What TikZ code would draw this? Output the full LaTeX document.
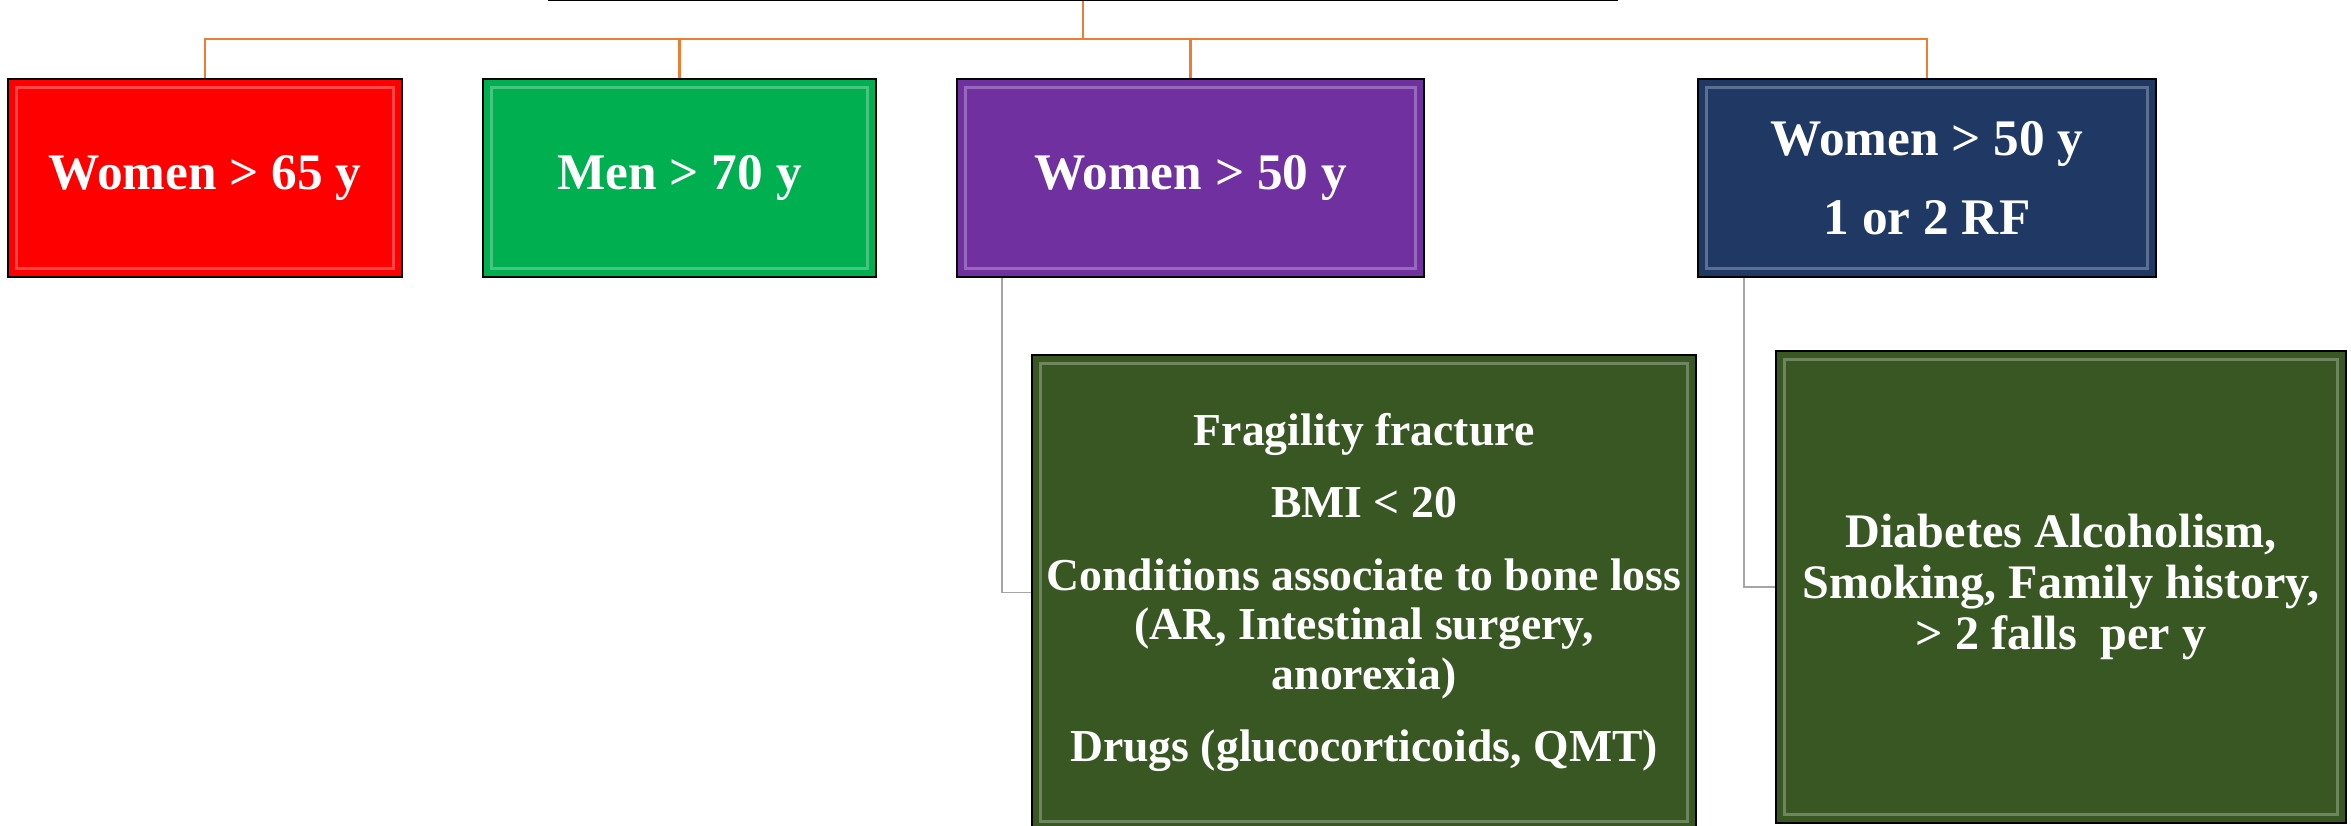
\documentclass[tikz,border=0pt]{standalone}
\usepackage{fontspec}
\setmainfont{Liberation Serif}
\usepackage{xcolor}
\usetikzlibrary{positioning,calc}

\definecolor{boxred}{HTML}{FF0000}
\definecolor{boxgreen}{HTML}{00B050}
\definecolor{boxpurple}{HTML}{7030A0}
\definecolor{boxnavy}{HTML}{1F3864}
\definecolor{boxolive}{HTML}{385723}
\definecolor{linkorange}{HTML}{ED7D31}
\definecolor{linkgray}{HTML}{A5A5A5}

\tikzset{
  bevelbox/.style={rectangle, draw=black, line width=0.7pt, text=white, align=center,
    inner sep=0pt, font=\bfseries\fontsize{14.6}{22.6}\selectfont,
    path picture={\draw[white,opacity=0.28,line width=0.9pt]
      ([shift={(2.5pt,-2.5pt)}]path picture bounding box.north west) rectangle
      ([shift={(-2.5pt,2.5pt)}]path picture bounding box.south east);}},
  orangelink/.style={draw=linkorange, line width=0.75pt},
  graylink/.style={draw=linkgray, line width=0.5pt}
}

\begin{document}
\begin{tikzpicture}
	\useasboundingbox (0,0) rectangle (23.51,-8.25);
	\clip (0,0) rectangle (23.51,-8.25);
	% top row
	\node[draw=black, fill=white, line width=0.7pt, minimum width=10.68cm, minimum height=1cm, anchor=south] (root) at (10.83,-0.01) {};
	\node[bevelbox, fill=boxred, minimum width=3.94cm, minimum height=1.98cm] (women65) at (2.05,-1.78) {Women > 65 y};
	\node[bevelbox, fill=boxgreen, minimum width=3.93cm, minimum height=1.98cm] (men70) at (6.795,-1.78) {Men > 70 y};
	\node[bevelbox, fill=boxpurple, minimum width=4.67cm, minimum height=1.98cm] (women50) at (11.905,-1.78) {Women > 50 y};
	\node[bevelbox, fill=boxnavy, minimum width=4.58cm, minimum height=1.98cm] (women50rf) at (19.27,-1.78) {Women > 50 y\\ 1 or 2 RF};
	% bottom row
	\node[bevelbox, fill=boxolive, minimum width=6.64cm, minimum height=4.75cm,
		font=\bfseries\fontsize{13}{14.1}\selectfont] (risk) at (13.64,-5.925)
		{Fragility fracture\\[6.4pt] BMI < 20\\[6.4pt] Conditions associate to bone loss\\ (AR, Intestinal surgery,\\ anorexia)\\[6.4pt] Drugs (glucocorticoids, QMT)};
	\node[bevelbox, fill=boxolive, minimum width=5.70cm, minimum height=4.72cm,
		font=\bfseries\fontsize{13.7}{14.6}\selectfont] (factors) at (20.61,-5.87)
		{Diabetes Alcoholism,\\ Smoking, Family history,\\ > 2 falls~ per y};
	% links
	\coordinate (bus) at (10.83,-0.39);
	\draw[orangelink] (root.south) -- (bus);
	\foreach \n in {women65,men70,women50,women50rf}
		\draw[orangelink] (bus) -| (\n.north);
	\draw[graylink] ([xshift=0.46cm]women50.south west) |- (risk.west);
	\draw[graylink] ([xshift=0.47cm]women50rf.south west) |- (factors.west);
\end{tikzpicture}
\end{document}
